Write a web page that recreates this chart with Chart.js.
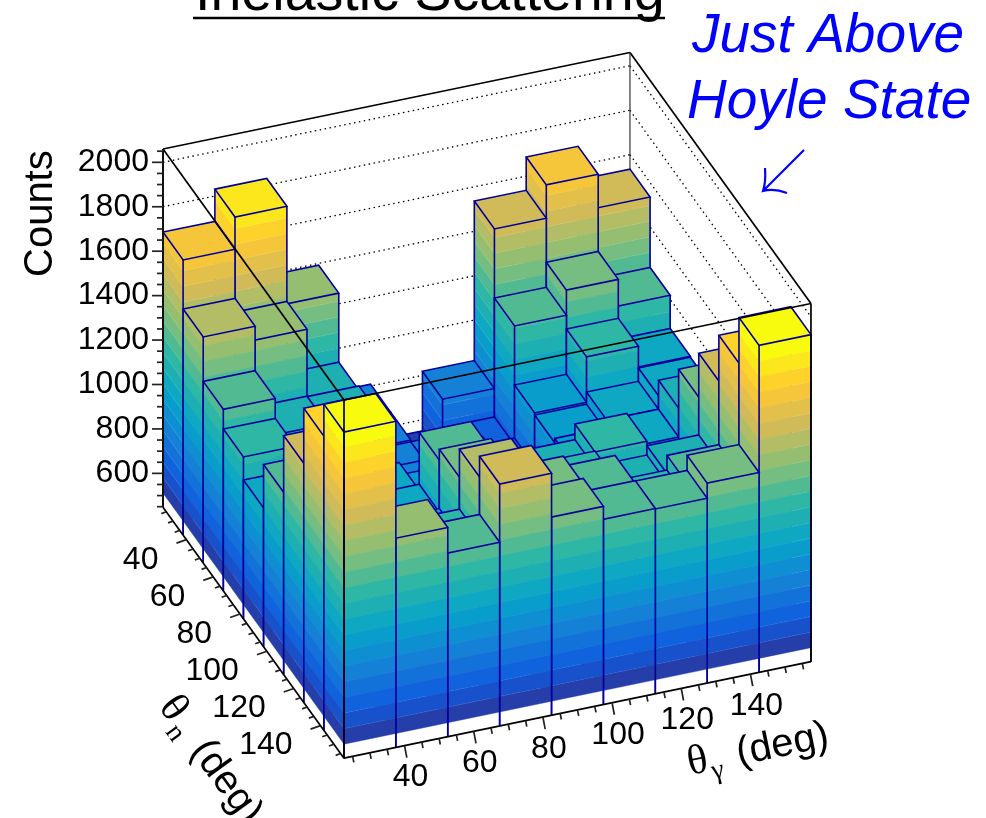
<!DOCTYPE html>
<html>
<head>
<meta charset="utf-8">
<title>Inelastic Scattering</title>
<script src="https://cdn.jsdelivr.net/npm/chart.js@4"></script>
<style>
html, body { margin: 0; padding: 0; background: #fff; overflow: hidden; }
canvas { display: block; }
</style>
</head>
<body>
<canvas id="lego" width="986" height="818"></canvas>
<script>
// bin centres (deg)
const thetaGamma = [30, 45, 60, 75, 90, 105, 120, 135, 150];
const thetaN = [30, 45, 60, 75, 90, 105, 120, 135, 150];

// counts, one row per thetaN bin, running along thetaGamma
const countsN30  = [1686, 1831, 1392,  808,  550,  818, 1536, 1686, 1535];
const countsN45  = [1465, 1403, 1081,  808,  650,  690, 1225, 1338, 1218];
const countsN60  = [1265, 1102, 1100,  800,  800,  720,  959, 1163, 1069];
const countsN75  = [1176, 1000,  850,  850,  900,  730,  950, 1005, 1065];
const countsN90  = [1072,  950, 1007,  950,  950,  870,  970, 1005, 1135];
const countsN105 = [1268, 1000, 1034, 1268, 1050, 1090, 1160,  960, 1310];
const countsN120 = [1524, 1100, 1050, 1317, 1100, 1164, 1098, 1140, 1508];
const countsN135 = [1772, 1200, 1173, 1443, 1315, 1270, 1156, 1222, 1714];
const countsN150 = [1916, 1390, 1275, 1537, 1340, 1282, 1280, 1348, 1920];
const countRows = [countsN30, countsN45, countsN60, countsN75, countsN90, countsN105, countsN120, countsN135, countsN150];

const countTicks = [600, 800, 1000, 1200, 1400, 1600, 1800, 2000];
const angleTicks = [40, 60, 80, 100, 120, 140];

const binHalf = 7.5;
const angleMin = 22.5, angleMax = 157.5;
const frameMin = 448, frameMax = 2060;
const barBase = 511, levelCount = 20, levelMax = 1920;

// kBird palette stops
const birdR = [0.2082, 0.0592, 0.0780, 0.0232, 0.1802, 0.5301, 0.8186, 0.9956, 0.9764];
const birdG = [0.1664, 0.3599, 0.5041, 0.6419, 0.7178, 0.7492, 0.7328, 0.7862, 0.9832];
const birdB = [0.5293, 0.8684, 0.8385, 0.7914, 0.6425, 0.4662, 0.3499, 0.1968, 0.0539];

function bird(t) {
    let p = Math.min(t, 0.9999) * 8;
    let i = Math.floor(p), f = p - i;
    let mix = a => Math.round(255 * (a[i] + (a[i + 1] - a[i]) * f));
    return `rgb(${mix(birdR)},${mix(birdG)},${mix(birdB)})`;
}

const levelWidth = (levelMax - barBase) / levelCount;
function levelOf(z) {
    return Math.max(0, Math.min(levelCount - 1, Math.floor((z - barBase) / levelWidth)));
}
function levelColor(i) {
    return bird((i + 1) / levelCount);
}

// oblique view: each axis gets a fixed shift on the two hidden chart scales
function project(tg, tn, z) {
    let a = tg - angleMin, b = tn - angleMin;
    return { x: a + 0.3876 * b, y: z + 3.218 * a - 8.37 * b };
}

let barPoints = [];
thetaN.forEach((tn, r) => {
    for (let c = thetaGamma.length - 1; c >= 0; c--) {
        let tg = thetaGamma[c], z = countRows[r][c];
        barPoints.push({ ...project(tg, tn, z), tg: tg, tn: tn, z: z });
    }
});

const legoPlugin = {
    id: 'lego',
    beforeDatasetsDraw(chart) {
        let ctx = chart.ctx;
        let pos = (tg, tn, z) => {
            let p = project(tg, tn, z);
            return [chart.scales.x.getPixelForValue(p.x), chart.scales.y.getPixelForValue(p.y)];
        };
        let line = (a, b) => { ctx.beginPath(); ctx.moveTo(a[0], a[1]); ctx.lineTo(b[0], b[1]); ctx.stroke(); };
        ctx.save();

        // back walls
        ctx.strokeStyle = '#000';
        ctx.lineWidth = 1.3;
        ctx.setLineDash([1.5, 3.5]);
        countTicks.forEach(z => {
            line(pos(angleMin, angleMin, z), pos(angleMax, angleMin, z));
            line(pos(angleMax, angleMin, z), pos(angleMax, angleMax, z));
        });
        ctx.setLineDash([]);
        ctx.lineWidth = 1.7;
        line(pos(angleMin, angleMin, frameMax), pos(angleMax, angleMin, frameMax));
        line(pos(angleMax, angleMin, frameMax), pos(angleMax, angleMax, frameMax));
        ctx.lineWidth = 1.2;
        ctx.strokeStyle = '#333';
        line(pos(angleMax, angleMin, frameMax), pos(angleMax, angleMin, frameMin));

        // bars, back to front
        let face = (a, b, top) => {
            let i = 0, z = barBase;
            while (z < top) {
                let next = Math.min(barBase + (i + 1) * levelWidth, top);
                let col = levelColor(Math.min(i, levelCount - 1));
                ctx.fillStyle = col;
                ctx.strokeStyle = col;
                ctx.lineWidth = 0.4;
                let p = [pos(a[0], a[1], z), pos(b[0], b[1], z), pos(b[0], b[1], next), pos(a[0], a[1], next)];
                ctx.beginPath();
                p.forEach((q, k) => k ? ctx.lineTo(q[0], q[1]) : ctx.moveTo(q[0], q[1]));
                ctx.closePath();
                ctx.fill();
                ctx.stroke();
                // faint seam between two bands
                if (next < top) {
                    ctx.strokeStyle = 'rgba(255,255,255,0.18)';
                    ctx.lineWidth = 0.7;
                    line(p[3], p[2]);
                }
                z = next;
                i++;
            }
        };
        chart.data.datasets[0].data.forEach(d => {
            let g0 = d.tg - binHalf, g1 = d.tg + binHalf, n0 = d.tn - binHalf, n1 = d.tn + binHalf;
            face([g0, n0], [g0, n1], d.z);
            face([g0, n1], [g1, n1], d.z);
            let top = [pos(g0, n0, d.z), pos(g1, n0, d.z), pos(g1, n1, d.z), pos(g0, n1, d.z)];
            ctx.fillStyle = levelColor(levelOf(d.z));
            ctx.beginPath();
            top.forEach((q, k) => k ? ctx.lineTo(q[0], q[1]) : ctx.moveTo(q[0], q[1]));
            ctx.closePath();
            ctx.fill();
            ctx.strokeStyle = '#00009c';
            ctx.lineWidth = 1.6;
            ctx.stroke();
            line(pos(g0, n0, d.z), pos(g0, n0, frameMin));
            line(pos(g0, n1, d.z), pos(g0, n1, frameMin));
            line(pos(g1, n1, d.z), pos(g1, n1, frameMin));
        });

        // front of the frame
        ctx.strokeStyle = '#000';
        ctx.lineWidth = 1.7;
        line(pos(angleMin, angleMin, frameMax), pos(angleMin, angleMax, frameMax));
        line(pos(angleMin, angleMax, frameMax), pos(angleMax, angleMax, frameMax));
        line(pos(angleMin, angleMax, frameMax), pos(angleMin, angleMax, frameMin));
        line(pos(angleMax, angleMax, frameMax), pos(angleMax, angleMax, frameMin));
        line(pos(angleMin, angleMin, frameMin), pos(angleMin, angleMax, frameMin));
        line(pos(angleMin, angleMax, frameMin), pos(angleMax, angleMax, frameMin));
        ctx.lineWidth = 2;
        ctx.strokeStyle = '#111';
        line(pos(angleMin, angleMin, frameMax), pos(angleMin, angleMin, frameMin));
        ctx.restore();
    },
    afterDatasetsDraw(chart) {
        let ctx = chart.ctx;
        let pos = (tg, tn, z) => {
            let p = project(tg, tn, z);
            return [chart.scales.x.getPixelForValue(p.x), chart.scales.y.getPixelForValue(p.y)];
        };
        let tick = (p, dx, dy) => { ctx.beginPath(); ctx.moveTo(p[0], p[1]); ctx.lineTo(p[0] + dx, p[1] + dy); ctx.stroke(); };
        ctx.save();
        ctx.strokeStyle = '#222';
        ctx.lineWidth = 1.7;

        // counts axis ticks
        chart.scales.y.ticks.forEach(t => {
            let major = countTicks.includes(t.value);
            tick(pos(angleMin, angleMin, t.value), major ? -11 : -6, 0);
        });

        // angle axes ticks
        for (let a = 25; a <= 155; a += 5) {
            let major = angleTicks.includes(a);
            tick(pos(a, angleMax, frameMin), major ? 2.3 : 1.2, major ? 12 : 6);
            tick(pos(angleMin, a, frameMin), major ? -10 : -5, major ? 3.5 : 1.8);
        }

        // angle axes labels
        ctx.fillStyle = '#000';
        ctx.font = '32px "Liberation Sans"';
        ctx.textBaseline = 'middle';
        angleTicks.forEach(a => {
            let p = pos(a, angleMax, frameMin);
            ctx.textAlign = 'center';
            ctx.fillText(String(a), p[0] + 6, p[1] + 32);
            p = pos(angleMin, a, frameMin);
            ctx.textAlign = 'right';
            ctx.fillText(String(a), p[0] - 28, p[1] + 20);
        });

        // Counts title
        ctx.textBaseline = 'alphabetic';
        ctx.textAlign = 'left';
        ctx.save();
        ctx.translate(52, 277);
        ctx.rotate(-Math.PI / 2);
        ctx.font = '40px "Liberation Sans"';
        ctx.fillText('Counts', 0, 0);
        ctx.restore();

        // thetaGamma title
        ctx.save();
        ctx.translate(690, 775);
        ctx.rotate(-11.5 * Math.PI / 180);
        ctx.font = '42px "Liberation Serif"';
        ctx.fillText('θ', 0, 0);
        ctx.font = '28px "Liberation Serif"';
        ctx.fillText('γ', 22, 9);
        ctx.font = '40px "Liberation Sans"';
        ctx.fillText('(deg)', 50, 0);
        ctx.restore();

        // thetaN title
        ctx.save();
        ctx.translate(158, 707);
        ctx.rotate(54 * Math.PI / 180);
        ctx.font = '42px "Liberation Serif"';
        ctx.fillText('θ', 0, 0);
        ctx.font = '28px "Liberation Serif"';
        ctx.fillText('n', 24, 9);
        ctx.font = '40px "Liberation Sans"';
        ctx.fillText('(deg)', 54, 0);
        ctx.restore();

        // main title, cut by the top of the page
        ctx.font = '55.6px "Liberation Sans"';
        ctx.fillText('Inelastic Scattering', 195, 10);
        ctx.lineWidth = 2.5;
        ctx.strokeStyle = '#000';
        ctx.beginPath();
        ctx.moveTo(193, 18);
        ctx.lineTo(665, 18);
        ctx.stroke();

        // note and arrow
        ctx.fillStyle = '#0000ff';
        ctx.strokeStyle = '#0000ff';
        ctx.font = 'italic 55px "Liberation Sans"';
        ctx.fillText('Just Above', 692, 52);
        ctx.fillText('Hoyle State', 687, 118);
        ctx.lineWidth = 2.2;
        ctx.beginPath();
        ctx.moveTo(804, 150);
        ctx.lineTo(763, 191);
        ctx.moveTo(765, 168);
        ctx.quadraticCurveTo(766, 182, 763, 191);
        ctx.quadraticCurveTo(774, 188, 787, 193);
        ctx.stroke();
        ctx.restore();
    }
};

let chart = new Chart(document.getElementById('lego').getContext('2d'), {
    type: 'scatter',
    data: {
        datasets: [{
            label: 'Counts',
            data: barPoints,
            pointRadius: 0,
            pointHoverRadius: 0
        }]
    },
    options: {
        responsive: false,
        animation: false,
        events: [],
        layout: { padding: 0 },
        plugins: {
            legend: { display: false },
            title: { display: false },
            tooltip: { enabled: false }
        },
        scales: {
            x: { type: 'linear', display: false, min: 0, max: 237.93 },
            y: {
                type: 'linear',
                min: -951.2,
                max: 2730.6,
                afterFit: scale => {
                    scale.width = 163;
                    scale.paddingTop = 0;
                    scale.paddingBottom = 0;
                },
                afterBuildTicks: scale => {
                    let list = [];
                    for (let v = 450; v <= 2050; v += 50) list.push({ value: v });
                    scale.ticks = list;
                },
                grid: { display: false },
                border: { display: false },
                ticks: {
                    autoSkip: false,
                    padding: 6,
                    color: '#000',
                    font: { family: '"Liberation Sans"', size: 32 },
                    callback: value => countTicks.includes(value) ? String(value) : ''
                }
            }
        }
    },
    plugins: [legoPlugin]
});
</script>
</body>
</html>
